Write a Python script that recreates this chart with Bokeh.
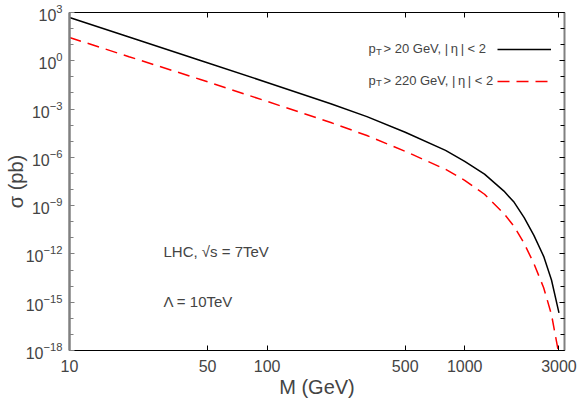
from bokeh.plotting import figure
from bokeh.models import (FixedTicker, LogAxis, Label, Legend, LegendItem,
                          BasicTickFormatter, CustomLabelingPolicy,
                          CustomJSTickFormatter)
from bokeh.embed import file_html
from bokeh.resources import INLINE

# ---- data ----
mass_pt20 = [10, 20, 46, 100, 210, 320, 500, 800, 1000, 1260, 1580, 1780,
             2000, 2240, 2510, 2750, 3000]
sigma_pt20 = [490, 30, 1.05, 4.5e-2, 2.16e-3, 3.4e-4, 3.6e-5, 2.7e-6,
              5.7e-7, 9.0e-8, 8.0e-9, 1.6e-9, 1.8e-10, 1.43e-11, 7.1e-13,
              2.4e-14, 2.2e-16]

mass_pt220 = [10, 20, 46, 100, 210, 320, 500, 800, 1000, 1260, 1580, 1780,
              2000, 2240, 2510, 2750, 3000]
sigma_pt220 = [28, 1.8, 6.9e-2, 3.0e-3, 1.46e-4, 2.26e-5, 2.37e-6, 1.8e-7,
               3.75e-8, 5.1e-9, 3.2e-10, 5.1e-11, 4.5e-12, 2.5e-13, 8.0e-15,
               1.7e-16, 5.5e-19]

x_ticks = [10, 50, 100, 500, 1000, 3000]
y_major_ticks = [1e3, 1e0, 1e-3, 1e-6, 1e-9, 1e-12, 1e-15, 1e-18]
y_minor_ticks = [1e3, 1e2, 1e1, 1e0, 1e-1, 1e-2, 1e-3, 1e-4, 1e-5, 1e-6,
                 1e-7, 1e-8, 1e-9, 1e-10, 1e-11, 1e-12, 1e-13, 1e-14,
                 1e-15, 1e-16, 1e-17, 1e-18]

legend_labels = ["> 20 GeV, |\u2009\u03b7\u2009| < 2",
                 "> 220 GeV, |\u2009\u03b7\u2009| < 2"]

FONT = "Liberation Sans"
GRAY = "#808080"

hide_all = CustomLabelingPolicy(
    code="for (const i of [...indices]) { indices.unset(i) }\nreturn indices")
empty_fmt = CustomJSTickFormatter(code="return ''")

p = figure(width=581, height=407, x_axis_type="log", y_axis_type="log",
           x_range=(10, 3200), y_range=(1e-18, 1e3),
           output_backend="svg", toolbar_location=None,
           min_border_left=69, min_border_right=17, min_border_top=12,
           min_border_bottom=57)
p.grid.visible = False
p.outline_line_color = None
p.background_fill_color = "white"
p.border_fill_color = "white"

r1 = p.line(mass_pt20, sigma_pt20, line_color="black", line_width=1.5)
r2 = p.line(mass_pt220, sigma_pt220, line_color="#ff0000", line_width=1.5,
            line_dash="12 7")

# bottom axis
xa = p.xaxis[0]
xa.ticker = FixedTicker(ticks=x_ticks)
xa.formatter = BasicTickFormatter()
xa.major_tick_in = 5
xa.major_tick_out = 0
xa.minor_tick_line_color = None
xa.axis_line_color = "black"
xa.major_tick_line_color = "black"
xa.major_label_text_font = FONT
xa.major_label_text_font_size = "16px"
xa.major_label_standoff = 9
xa.axis_label = "M (GeV)"
xa.axis_label_text_font = FONT
xa.axis_label_text_font_size = "20px"
xa.axis_label_text_font_style = "normal"
xa.axis_label_standoff = 1

# left axis
ya = p.yaxis[0]
ya.ticker = FixedTicker(ticks=y_major_ticks, minor_ticks=y_minor_ticks)
ya.major_tick_in = 5
ya.major_tick_out = 0
ya.minor_tick_in = 4
ya.minor_tick_out = 0
ya.axis_line_color = GRAY
ya.axis_line_width = 2.5
ya.major_tick_line_color = GRAY
ya.minor_tick_line_color = GRAY
ya.major_label_text_font = FONT
ya.major_label_text_font_size = "16px"
ya.major_label_standoff = 7
ya.axis_label = "\u03c3 (pb)"
ya.axis_label_text_font = FONT
ya.axis_label_text_font_size = "20px"
ya.axis_label_text_font_style = "normal"
ya.axis_label_standoff = -4

# top axis (ticks only)
top = LogAxis(ticker=FixedTicker(ticks=x_ticks), major_tick_in=5,
              major_tick_out=0, minor_tick_line_color=None,
              formatter=empty_fmt,
              major_label_text_font_size="2px", major_label_standoff=0,
              major_label_policy=hide_all, axis_line_color="black")
p.add_layout(top, "above")

# right axis (ticks only)
right = LogAxis(ticker=FixedTicker(ticks=y_major_ticks, minor_ticks=y_minor_ticks),
                major_tick_in=5, major_tick_out=0, minor_tick_in=4,
                minor_tick_out=0, formatter=empty_fmt,
                major_label_text_font_size="2px",
                major_label_standoff=0, major_label_policy=hide_all,
                axis_line_color=GRAY, axis_line_width=2)
p.add_layout(right, "right")

# legend samples (lines at right, text to their left)
legend = Legend(items=[LegendItem(label=" ", renderers=[r1]),
                       LegendItem(label=" ", renderers=[r2])],
                location=(428, 264), glyph_width=54, glyph_height=10,
                label_height=10, label_width=0, label_standoff=0,
                label_text_font_size="8px", spacing=22, padding=0, margin=0,
                border_line_alpha=0, background_fill_alpha=0)
p.add_layout(legend)

for lab, base_y in zip(legend_labels, [302, 270.5]):
    p.add_layout(Label(x=299, y=base_y, x_units="screen", y_units="screen",
                       text="p", text_font=FONT, text_font_size="13px",
                       text_baseline="alphabetic", text_align="left"))
    p.add_layout(Label(x=306.5, y=base_y - 2.5, x_units="screen", y_units="screen",
                       text="T", text_font=FONT, text_font_size="9.5px",
                       text_baseline="alphabetic", text_align="left"))
    p.add_layout(Label(x=314, y=base_y, x_units="screen", y_units="screen",
                       text=lab, text_font=FONT, text_font_size="13px",
                       text_baseline="alphabetic", text_align="left"))

# annotations
p.add_layout(Label(x=94, y=99, x_units="screen", y_units="screen",
                   text="LHC, \u221as = 7TeV", text_font=FONT,
                   text_font_size="15px", text_baseline="alphabetic"))
p.add_layout(Label(x=94, y=49, x_units="screen", y_units="screen",
                   text="\u039b = 10TeV", text_font=FONT,
                   text_font_size="15px", text_baseline="alphabetic"))

open("out.html", "w").write(file_html(p, INLINE))
